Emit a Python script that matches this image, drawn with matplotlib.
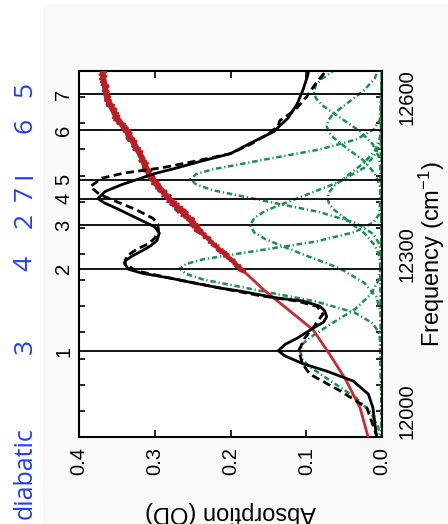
import matplotlib
matplotlib.use('Agg')
import matplotlib.pyplot as plt
import matplotlib.transforms as mtransforms
from matplotlib.patches import Rectangle

plt.rcParams['font.family'] = ['Liberation Sans', 'DejaVu Sans']
plt.rcParams['mathtext.fontset'] = 'custom'
plt.rcParams['mathtext.rm'] = 'Liberation Sans'
plt.rcParams['mathtext.it'] = 'Liberation Sans:italic'

# ---------------- data (frequency in cm^-1, absorption in OD) ----------------
solid_freq = [11948, 12006, 12032, 12057, 12076, 12090, 12105, 12115, 12127, 12139,
              12157, 12170, 12180, 12192, 12200, 12210, 12216, 12223, 12229, 12235,
              12245, 12254, 12263, 12271, 12280, 12287, 12296, 12306, 12316, 12326,
              12340, 12352, 12368, 12387, 12398, 12406, 12420, 12433, 12445, 12453,
              12465, 12477, 12492, 12511, 12534, 12560, 12587, 12615, 12642, 12650]
solid_abs = [0.007, 0.012, 0.018, 0.038, 0.073, 0.104, 0.128, 0.137, 0.128, 0.112,
             0.092, 0.077, 0.073, 0.076, 0.082, 0.104, 0.139, 0.165, 0.187, 0.214,
             0.250, 0.280, 0.316, 0.335, 0.339, 0.339, 0.330, 0.317, 0.305, 0.297,
             0.294, 0.300, 0.323, 0.350, 0.367, 0.375, 0.365, 0.343, 0.318, 0.302,
             0.270, 0.240, 0.200, 0.175, 0.143, 0.124, 0.112, 0.104, 0.098, 0.097]

dashed_freq = [11948, 12006, 12038, 12070, 12090, 12115, 12139, 12159, 12185, 12200,
               12210, 12220, 12235, 12254, 12268, 12282, 12296, 12310, 12319, 12330,
               12345, 12357, 12368, 12385, 12400, 12414, 12429, 12445, 12455, 12465,
               12478, 12492, 12511, 12530, 12545, 12555, 12575, 12600, 12625, 12650]
dashed_abs = [0.006, 0.020, 0.055, 0.095, 0.105, 0.110, 0.102, 0.091, 0.078, 0.086,
              0.112, 0.160, 0.214, 0.280, 0.325, 0.340, 0.337, 0.323, 0.309, 0.300,
              0.295, 0.296, 0.302, 0.325, 0.350, 0.373, 0.385, 0.370, 0.340, 0.290,
              0.245, 0.200, 0.172, 0.150, 0.137, 0.135, 0.115, 0.100, 0.088, 0.074]

red_freq = [11948, 12006, 12060, 12108, 12155, 12195, 12230, 12265, 12308, 12340,
            12365, 12410, 12448, 12490, 12535, 12560, 12598, 12636, 12650]
red_abs = [0.018, 0.029, 0.048, 0.069, 0.091, 0.125, 0.155, 0.181, 0.214, 0.238,
           0.253, 0.284, 0.306, 0.319, 0.337, 0.350, 0.363, 0.368, 0.369]

comp1_freq = [11939, 11968, 11997, 12026, 12055, 12084, 12098, 12113, 12128, 12140,
              12168, 12195, 12223, 12250, 12278, 12650]
comp1_abs = [0.0012, 0.0047, 0.0146, 0.0351, 0.0655, 0.0953, 0.1047, 0.108, 0.1047, 0.0953,
             0.0655, 0.0351, 0.0146, 0.0047, 0.0012, 0.0]

comp2_freq = [11945, 12146, 12167, 12188, 12209, 12230, 12251, 12262, 12272, 12281,
              12290, 12307, 12324, 12342, 12360, 12377, 12650]
comp2_abs = [0.0, 0.003, 0.0117, 0.0361, 0.0867, 0.1619, 0.2356, 0.2588, 0.267, 0.2588,
             0.2356, 0.1619, 0.0867, 0.0361, 0.0117, 0.003, 0.0]

comp3_freq = [11945, 12190, 12218, 12245, 12273, 12300, 12328, 12341, 12355, 12369,
              12383, 12410, 12438, 12465, 12493, 12520, 12650]
comp3_abs = [0.0, 0.0019, 0.0076, 0.0235, 0.0565, 0.1055, 0.1536, 0.1686, 0.174, 0.1686,
             0.1536, 0.1055, 0.0565, 0.0235, 0.0076, 0.0019, 0.0]

comp4_freq = [11945, 12272, 12295, 12317, 12340, 12362, 12385, 12396, 12407, 12418,
              12430, 12452, 12475, 12497, 12520, 12542, 12650]
comp4_abs = [0.0, 0.0008, 0.0032, 0.0097, 0.0234, 0.0437, 0.0635, 0.0698, 0.072, 0.0698,
             0.0635, 0.0437, 0.0234, 0.0097, 0.0032, 0.0008, 0.0]

comp5_freq = [11945, 12317, 12338, 12359, 12380, 12401, 12422, 12433, 12443, 12453,
              12462, 12481, 12500, 12519, 12538, 12557, 12650]
comp5_abs = [0.0, 0.0028, 0.0111, 0.0342, 0.0821, 0.1534, 0.2233, 0.2452, 0.253, 0.2452,
             0.2233, 0.1534, 0.0821, 0.0342, 0.0111, 0.0028, 0.0]

comp6_freq = [11945, 12410, 12433, 12455, 12478, 12500, 12523, 12534, 12545, 12556,
              12568, 12590, 12613, 12635, 12658]
comp6_abs = [0.0, 0.0008, 0.0032, 0.0099, 0.0237, 0.0443, 0.0644, 0.0708, 0.073, 0.0708,
             0.0644, 0.0443, 0.0237, 0.0099, 0.0032]

comp7_freq = [11945, 12460, 12485, 12510, 12535, 12560, 12585, 12598, 12610, 12623,
              12635, 12660]
comp7_abs = [0.0, 0.001, 0.004, 0.0122, 0.0292, 0.0546, 0.0794, 0.0872, 0.09, 0.0872,
             0.0794, 0.0546]

exciton_freq = [12114, 12272, 12355, 12406, 12442, 12537, 12606]
exciton_labels = ['1', '2', '3', '4', '5', '6', '7']
diabatic_labels = ['3', '4', '2', '7', 'I', '6', '5']

abs_ticks = [0.0, 0.1, 0.2, 0.3, 0.4]
abs_ticklabels = ['0.0', '0.1', '0.2', '0.3', '0.4']
freq_labeled = [12000, 12300, 12600]

# ---------------- figure ----------------
W, H = 448, 524
fig = plt.figure(figsize=(W / 100, H / 100), dpi=100)
fig.patch.set_facecolor('white')
fig.add_artist(Rectangle((43 / W, 0), 1 - 43 / W, 1 - 5 / H, transform=fig.transFigure,
                         facecolor='#f9f9f9', edgecolor='none', zorder=-10))

ax = fig.add_axes([79 / W, 1 - 437 / H, 303 / W, 366 / H])
ax.set_facecolor('white')
ax.set_xlim(0.4, 0.0)
ax.set_ylim(11951, 12646)

green = '#16924a'
gstyle = (0, (2.2, 1.1, 0.5, 1.1))
for cf, ca in [(comp1_freq, comp1_abs), (comp2_freq, comp2_abs), (comp3_freq, comp3_abs),
               (comp4_freq, comp4_abs), (comp5_freq, comp5_abs), (comp6_freq, comp6_abs),
               (comp7_freq, comp7_abs)]:
    ax.plot(ca, cf, color=green, lw=1.8, linestyle=gstyle, zorder=2)

for f in exciton_freq:
    ax.axhline(f, color='black', lw=1.3, zorder=3)

# red experimental spectrum (noisy band in the upper part)
red_lo = [i for i, f in enumerate(red_freq) if f <= 12308]
red_mid = [i for i, f in enumerate(red_freq) if 12265 <= f <= 12365]
red_hi = [i for i, f in enumerate(red_freq) if f >= 12340]
ax.plot([red_abs[i] for i in red_lo], [red_freq[i] for i in red_lo],
        color='#cc2a2e', lw=2.0, zorder=4, solid_capstyle='round')
for idx, lw, sc in [(red_mid, 3.0, 1.2), (red_hi, 4.2, 1.8)]:
    xs = [red_abs[i] for i in idx]
    ys = [red_freq[i] for i in idx]
    ax.plot(xs, ys, color='#bb2026', lw=lw, zorder=4, solid_capstyle='butt')
    ln, = ax.plot(xs, ys, color='#b81e24', lw=1.6, zorder=4)
    ln.set_sketch_params(scale=sc * 2, length=2.0, randomness=12)

ax.plot(dashed_abs, dashed_freq, color='black', lw=2.0, linestyle=(0, (2.9, 1.6)), zorder=5)
ax.plot(solid_abs, solid_freq, color='black', lw=2.0, zorder=6)

# ticks
ax.set_xticks(abs_ticks)
ax.set_xticklabels(abs_ticklabels, rotation=90, fontsize=14.5)
yt = list(range(11950, 12651, 50))
ax.set_yticks(yt)
ax.set_yticklabels([str(v) if v in freq_labeled else '' for v in yt], rotation=90,
                   fontsize=14.5, va='center')
ax.tick_params(axis='x', direction='in', top=True, bottom=True, length=5, width=1.2, pad=7)
ax.tick_params(axis='y', direction='in', left=True, right=True, labelleft=False,
               labelright=True, length=4, width=1.2, pad=11)
for s in ax.spines.values():
    s.set_linewidth(1.5)

# exciton line labels
tr = mtransforms.blended_transform_factory(ax.transAxes, ax.transData)
for f, lab in zip(exciton_freq, exciton_labels):
    ax.text(-0.05, f, lab, transform=tr, rotation=90, ha='center', va='center',
            fontsize=14.5, clip_on=False)

# diabatic labels (blue)
blue = '#1f3cff'
trb = mtransforms.blended_transform_factory(fig.transFigure, ax.transData)
off = mtransforms.ScaledTranslation(0, 5 / 100, fig.dpi_scale_trans)
for f, lab in zip(exciton_freq, diabatic_labels):
    fig.text(25 / W, f, lab, transform=trb + off, rotation=90, ha='center', va='center',
             fontsize=19, color=blue, family=['Open Sans', 'DejaVu Sans'])
fig.text(25 / W, 1 - 473 / H, 'diabatic', rotation=90, ha='center', va='center',
         fontsize=18, color=blue, family=['Open Sans', 'DejaVu Sans'])

# axis labels
fig.text(230 / W, 1 - 512 / H, 'Absorption (OD)', rotation=180, ha='center', va='center',
         fontsize=17)
fig.text(432 / W, 1 - 254 / H, 'Frequency (cm$^{-1}$)', rotation=90, ha='center',
         va='center', fontsize=17)

fig.savefig('out.png', dpi=100)
